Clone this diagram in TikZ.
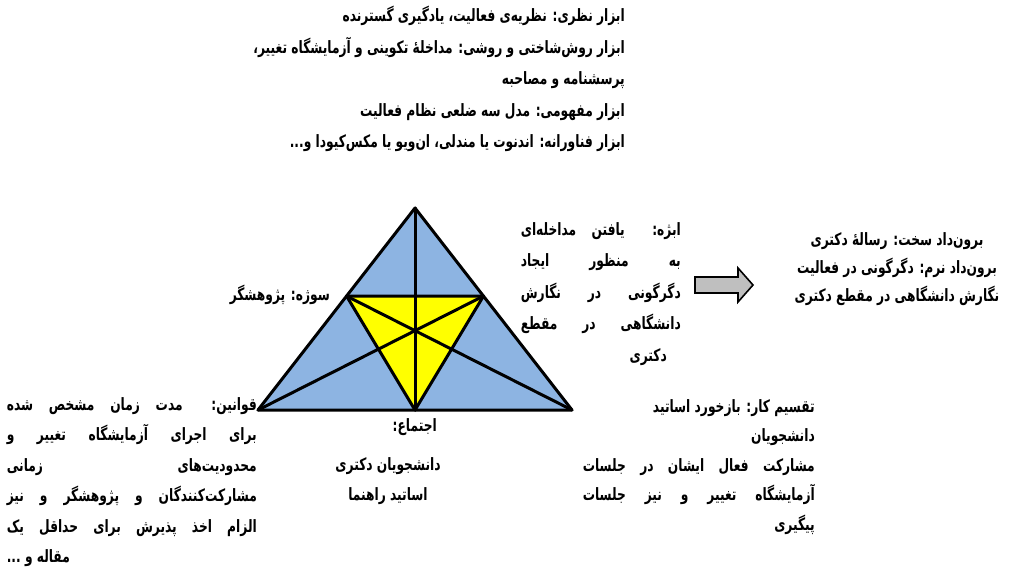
\documentclass[tikz,border=0pt]{standalone}
\usepackage{fontspec}
\newfontfamily\arabicfont[Script=Arabic,FakeStretch=0.72]{DejaVu Sans}
\TeXXeTstate=1
\usepackage{tikz}
\usetikzlibrary{calc,positioning}
\definecolor{triblue}{HTML}{8DB4E2}
\definecolor{triyellow}{HTML}{FFFF00}
\definecolor{arrowgray}{HTML}{BFBFBF}

\begin{document}
\begin{tikzpicture}[x=1pt,y=-1pt,
  fatext/.style={font=\arabicfont\bfseries\fontsize{17}{30.5}\selectfont,inner sep=0pt},
  edge/.style={line width=3pt,line join=round,line cap=round}]
\fill[white] (0,0) rectangle (1032,571);
\useasboundingbox (0,0) rectangle (1032,571);

% Activity triangle
\coordinate (apex) at (415,208);
\coordinate (bl) at (258,410);
\coordinate (br) at (572,410);
\coordinate (bm) at ($(bl)!0.5!(br)$);
\coordinate (il) at ($(apex)!0.436!(bl)$);
\coordinate (ir) at ($(apex)!0.436!(br)$);
\fill[triblue] (apex)--(bl)--(br)--cycle;
\fill[triyellow] (il)--(ir)--(bm)--cycle;
\draw[edge] (apex)--(bl)--(br)--cycle;
\draw[edge] (il)--(ir)--(bm)--cycle;
\draw[edge] (apex)--(bm);
\draw[edge] (bl)--(ir);
\draw[edge] (br)--(il);

% Tools
\node[fatext,font=\arabicfont\bfseries\fontsize{17}{31.5}\selectfont,
  anchor=north east,align=right] (tools) at (625,6) {%
\beginR ابزار نظری: نظریه‌ی فعالیت، یادگیری گسترنده\endR\\
\beginR ابزار روش‌شاختی و روشی: مداخلهٔ تکوینی و آزمایشگاه تغییر،\endR\\
\beginR پرسشنامه و مصاحبه\endR\\
\beginR ابزار مفهومی: مدل سه ضلعی نظام فعالیت\endR\\
\beginR ابزار فناورانه: اندنوت یا مندلی، ان‌ویو یا مکس‌کیودا و...\endR};

% Subject
\node[fatext,anchor=east] (subject) at (330,295) {\beginR سوژه: پژوهشگر\endR};

% Object
\node[fatext,font=\arabicfont\bfseries\fontsize{17}{31.5}\selectfont,
  anchor=north east,align=right] (object) at (681,222) {%
\makebox[160pt][s]{\beginR ابژه: یافتن مداخله‌ای\endR}\\
\makebox[160pt][s]{\beginR به منظور ایجاد\endR}\\
\makebox[160pt][s]{\beginR دگرگونی در نگارش\endR}\\
\makebox[160pt][s]{\beginR دانشگاهی در مقطع\endR}\\
\beginR دکتری\endR\hspace*{14pt}};

% Outcome
\coordinate (flowtail) at (695,285);
\coordinate (flowtip) at (753,285);
\draw[line width=1.6pt,fill=arrowgray,line join=miter]
  ($(flowtail)+(0,-8)$) -- ($(flowtip)+(-15,-8)$) -- ($(flowtip)+(-15,-17)$) -- (flowtip)
  -- ($(flowtip)+(-15,17)$) -- ($(flowtip)+(-15,8)$) -- ($(flowtail)+(0,8)$) -- cycle;
\node[fatext,font=\arabicfont\bfseries\fontsize{17}{28}\selectfont,
  anchor=north,align=center] (outcome) at (897,232) {%
\beginR برون‌داد سخت: رسالهٔ دکتری\endR\\
\beginR برون‌داد نرم: دگرگونی در فعالیت\endR\\
\beginR نگارش دانشگاهی در مقطع دکتری\endR};

% Rules
\node[fatext,anchor=north east,align=right] (rules) at (257,397) {%
\makebox[250pt][s]{\beginR قوانین: مدت زمان مشخص شده\endR}\\
\makebox[250pt][s]{\beginR برای اجرای آزمایشگاه تغییر و\endR}\\
\makebox[250pt][s]{\beginR محدودیت‌های زمانی\endR}\\
\makebox[250pt][s]{\beginR مشارکت‌کنندگان و پژوهشگر و نیز\endR}\\
\makebox[250pt][s]{\beginR الزام اخذ پذیرش برای حداقل یک\endR}\\
\makebox[250pt][l]{\beginR مقاله و ...\endR}};

% Community
\node[fatext,anchor=east] (community) at (437,427) {\beginR اجتماع:\endR};
\node[fatext,anchor=north,align=center] (members) at (388,457) {%
\beginR دانشجویان دکتری\endR\\
\beginR اساتید راهنما\endR};

% Division of labour
\node[fatext,font=\arabicfont\bfseries\fontsize{17}{29.5}\selectfont,
  anchor=north east,align=right] (division) at (815,399) {%
\beginR تقسیم کار: بازخورد اساتید\endR\\
\beginR دانشجویان\endR\\
\makebox[232pt][s]{\beginR مشارکت فعال ایشان در جلسات\endR}\\
\makebox[232pt][s]{\beginR آزمایشگاه تغییر و نیز جلسات\endR}\\
\beginR پیگیری\endR};
\end{tikzpicture}
\end{document}
